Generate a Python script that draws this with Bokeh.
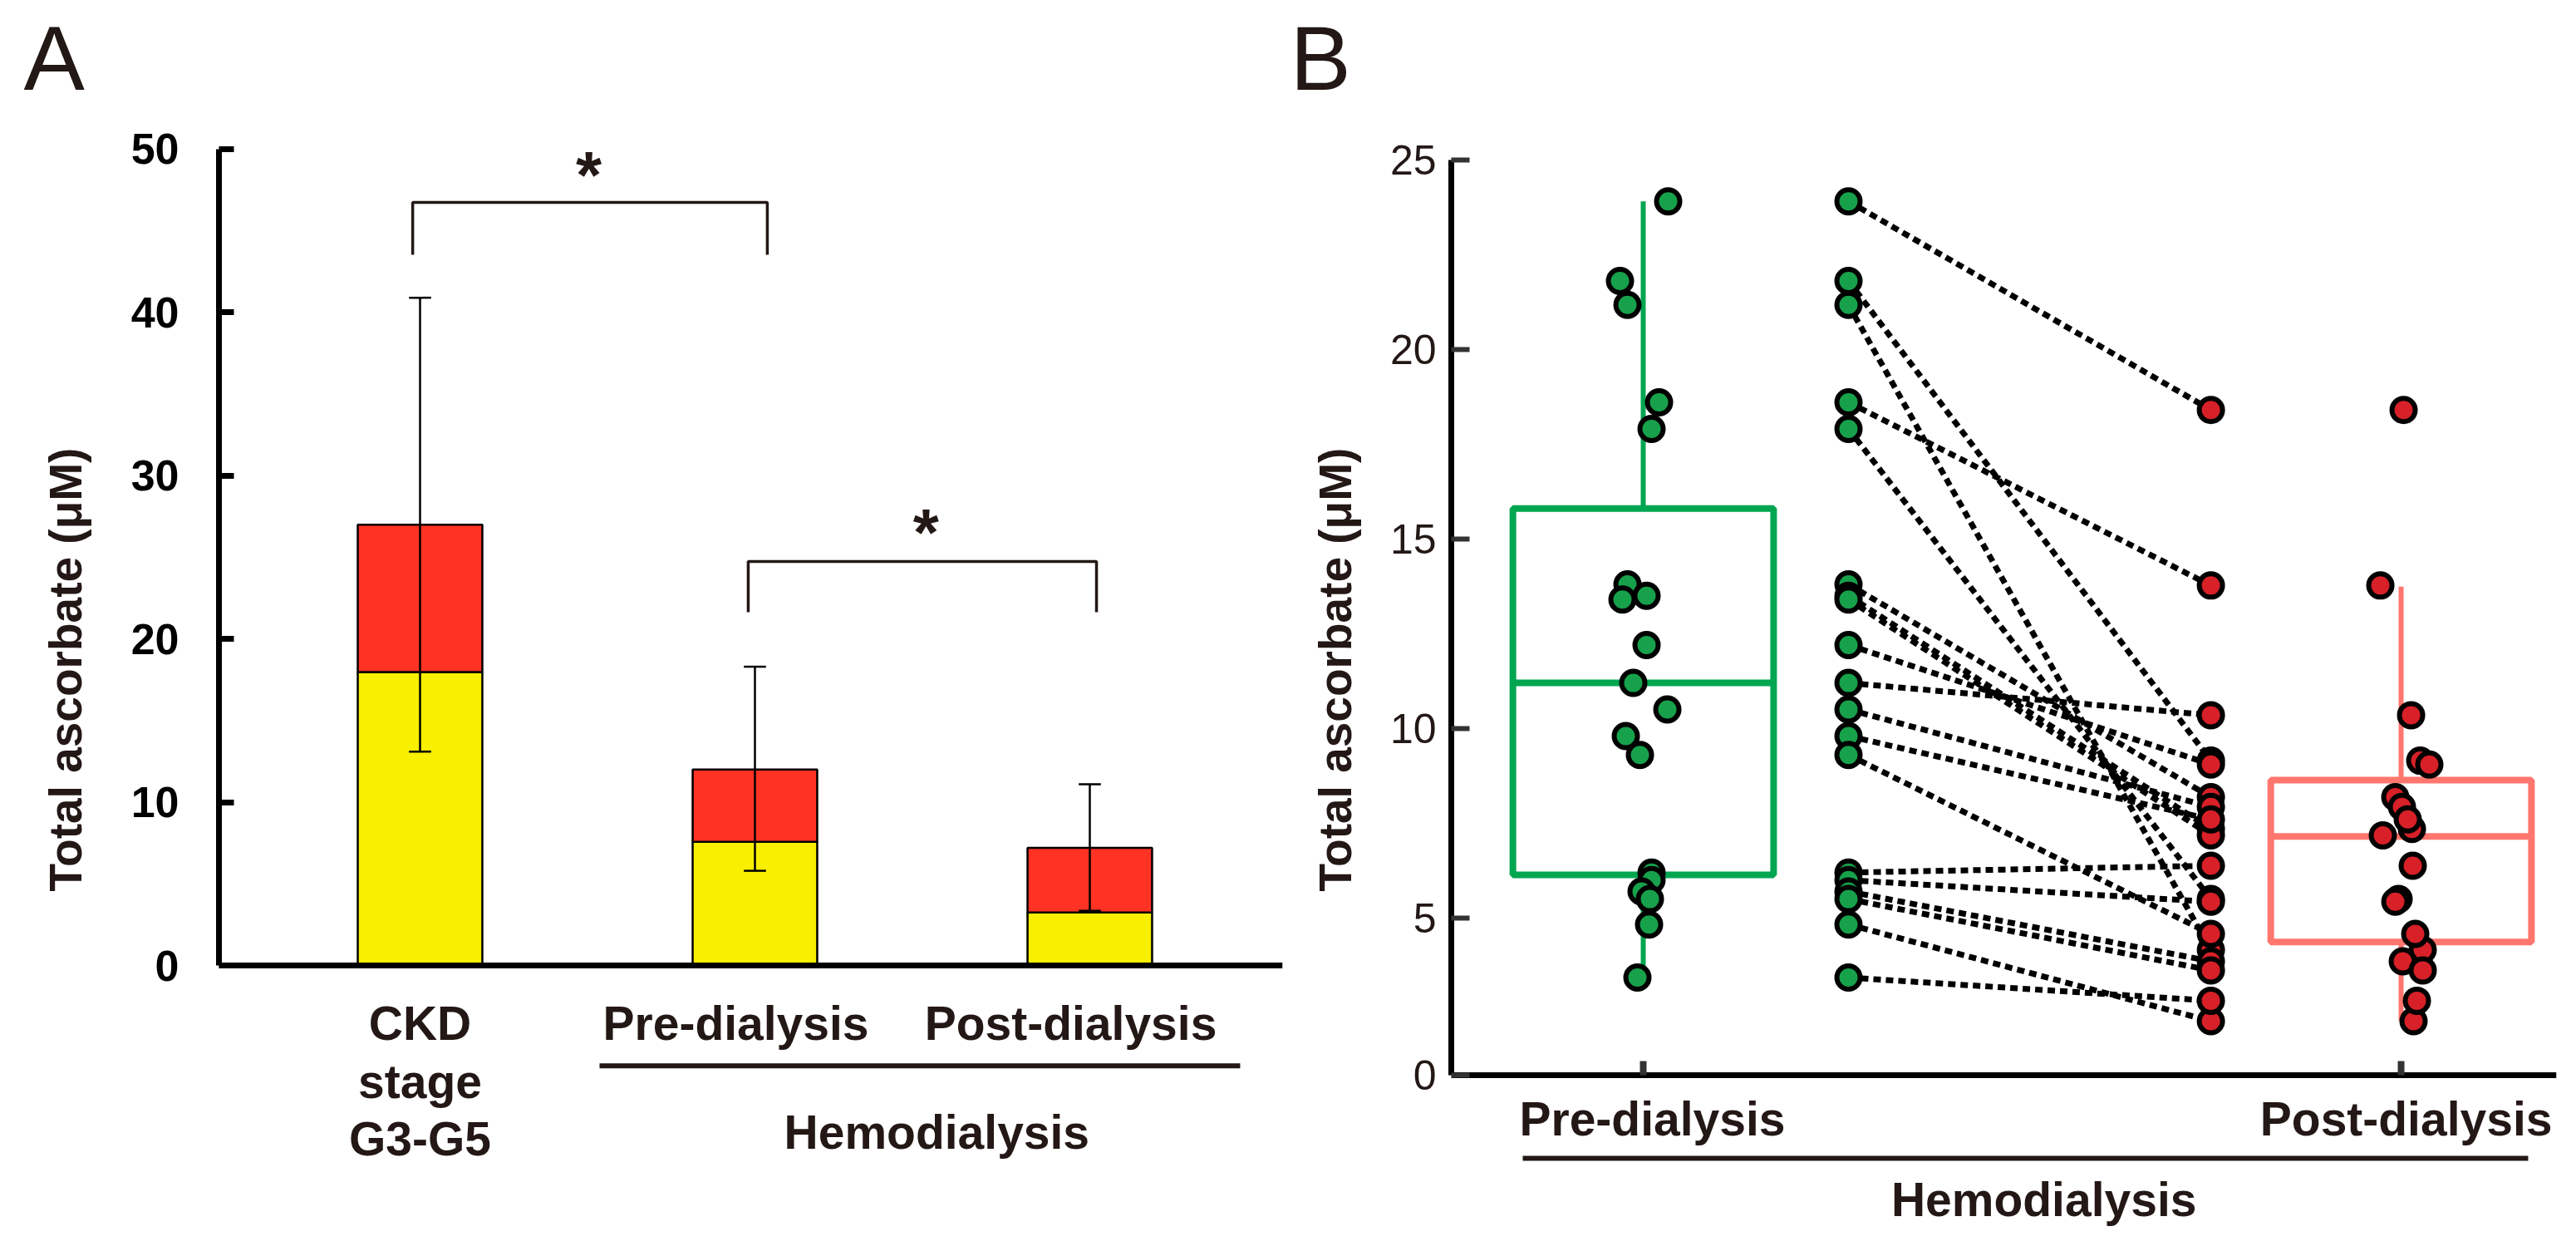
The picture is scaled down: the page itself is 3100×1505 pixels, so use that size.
from bokeh.plotting import figure
from bokeh.models import Range1d, FixedTicker
from bokeh.layouts import row
from bokeh.embed import file_html
from bokeh.resources import INLINE
from bokeh.core.properties import value

# ---------------- Panel A data ----------------
cat_labels_a = ["CKD\nstage\nG3-G5", "Pre-dialysis", "Post-dialysis"]
yellow_part = [17.97, 7.58, 3.25]
total_a = [27.0, 12.0, 7.2]
err_low = [13.1, 5.8, 3.35]
err_high = [40.9, 18.3, 11.1]
ticks_a = [0, 10, 20, 30, 40, 50]
group_label_a = "Hemodialysis"
star_text = "*"

# ---------------- Panel B data ----------------
pre_values = [23.9, 21.8, 21.17, 18.6, 17.9, 13.8, 13.5, 13.4, 12.2, 11.2,
              10.5, 9.8, 9.3, 6.2, 6.0, 5.7, 5.5, 4.83, 3.43]
post_values = [18.4, 9.15, 4.16, 13.77, 5.5, 8.19, 7.35, 7.18, 9.05, 10.35,
               7.93, 7.6, 4.58, 6.38, 5.43, 3.86, 3.62, 2.28, 2.82]
pre_jitter_px = [30, -28, -19, 19, 10, -19, 4, -25, 4, -12, 29, -21, -4, 10, 10, -2, 8, 7, -7]
post_jitter_px = [3, 23, 26, -25, -3, -7, 13, -22, 34, 12, 1, 8, 17, 14, -7, 2, 26, 15, 19]
box_q1 = [6.14, 4.37]
box_median = [11.2, 7.15]
box_q3 = [15.8, 8.64]
whisker_low = [3.43, 2.28]
whisker_high = [23.9, 13.74]
ticks_b = [5, 10, 15, 20, 25]
cat_labels_b = ["Pre-dialysis", "Post-dialysis"]
group_label_b = "Hemodialysis"
y_label = "Total ascorbate (μM)"
panel_letters = ["A", "B"]

# ---------------- styling ----------------
TXT = "#231815"
FONT = value("Liberation Sans")
H = 1500
TOP, BOTTOM = 130, 20
LAB_SIZE = "57px"


def make_fig(width, xr, yr, left, right, letter, letter_offset):
    f = figure(width=width, height=H, output_backend="svg", toolbar_location=None,
               x_range=Range1d(*xr), y_range=Range1d(*yr),
               min_border_left=left, min_border_right=right,
               min_border_top=TOP, min_border_bottom=BOTTOM,
               x_axis_location=None, title=letter)
    f.xgrid.visible = False
    f.ygrid.visible = False
    f.outline_line_color = None
    f.background_fill_color = "white"
    f.border_fill_color = "white"
    t = f.title
    t.align = "left"
    t.offset = letter_offset
    t.standoff = 0
    t.vertical_align = "bottom"
    t.text_font = "Liberation Sans"
    t.text_font_style = "normal"
    t.text_font_size = "110px"
    t.text_color = TXT
    return f


def style_axis(a, ticks, bounds, tick_in, tick_w, tick_col, lab_size, lab_style, standoff,
               title_standoff):
    a.ticker = FixedTicker(ticks=ticks)
    a.bounds = bounds
    a.axis_line_width = 7
    a.axis_line_color = "black"
    a.major_tick_in = tick_in
    a.major_tick_out = 0
    a.major_tick_line_width = tick_w
    a.major_tick_line_color = tick_col
    a.minor_tick_line_color = None
    a.major_label_text_font = "Liberation Sans"
    a.major_label_text_font_style = lab_style
    a.major_label_text_font_size = lab_size
    a.major_label_text_color = TXT if lab_style == "normal" else "black"
    a.major_label_standoff = standoff
    a.axis_label = y_label
    a.axis_label_text_font = "Liberation Sans"
    a.axis_label_text_font_style = "bold"
    a.axis_label_text_font_size = "55px"
    a.axis_label_text_color = TXT
    a.axis_label_standoff = title_standoff


# ================= Panel A =================
pa = make_fig(1550, (0.3995, 3.5757), (-16.24, 52.49), 263, 7, panel_letters[0], -235)
style_axis(pa.yaxis[0], ticks_a, (0, 50), 18, 7, "black", "52px", "bold", 48, 45)

pos_a = [1, 2, 3]
bar_w = 0.372
pa.vbar(x=pos_a, bottom=0, top=yellow_part, width=bar_w,
        fill_color="#F9EF00", line_color="black", line_width=2.5)
pa.vbar(x=pos_a, bottom=yellow_part, top=total_a, width=bar_w,
        fill_color="#FF3223", line_color="black", line_width=2.5)

cap = 0.033
pa.segment(x0=pos_a, y0=err_low, x1=pos_a, y1=err_high, line_color="black", line_width=2.5)
pa.segment(x0=[p - cap for p in pos_a], y0=err_high, x1=[p + cap for p in pos_a], y1=err_high,
           line_color="black", line_width=2.5)
pa.segment(x0=[p - cap for p in pos_a], y0=err_low, x1=[p + cap for p in pos_a], y1=err_low,
           line_color="black", line_width=2.5)

pa.segment(x0=[0.3995], y0=[0], x1=[3.5757], y1=[0], line_color="black", line_width=7)

br_x = [(0.978, 2.037), (1.980, 3.020)]
br_top = [46.74, 24.74]
br_leg = [43.53, 21.64]
pa.multi_line(xs=[[a, a, b, b] for a, b in br_x],
              ys=[[l, t, t, l] for t, l in zip(br_top, br_leg)],
              line_color=TXT, line_width=3.5)
pa.text(x=[1.504, 2.511], y=[48.4, 26.5], text=[star_text, star_text],
        text_align="center", text_baseline="alphabetic", text_font=FONT,
        text_font_style="bold", text_font_size="80px", text_color=TXT)

cat_x_a = [1.0, 1.943, 2.943]
lab_x, lab_y, lab_t = [], [], []
line_baselines = [-3.55, -7.1, -10.6]
for cx, lab in zip(cat_x_a, cat_labels_a):
    for i, part in enumerate(lab.split("\n")):
        lab_x.append(cx)
        lab_y.append(line_baselines[i])
        lab_t.append(part)
pa.text(x=lab_x, y=lab_y, text=lab_t, text_align="center", text_baseline="alphabetic",
        text_font=FONT, text_font_style="bold", text_font_size=LAB_SIZE, text_color=TXT)
pa.segment(x0=[1.536], y0=[-6.15], x1=[3.449], y1=[-6.15], line_color=TXT, line_width=6)
pa.text(x=[2.543], y=[-10.2], text=[group_label_a], text_align="center",
        text_baseline="alphabetic", text_font=FONT, text_font_style="bold",
        text_font_size=LAB_SIZE, text_color=TXT)

# ================= Panel B =================
axis_base = 0.855
pb = make_fig(1550, (0.2401, 4.615), (-3.244, 26.35), 196, 24, panel_letters[1], -194)
bx = pb.yaxis[0]
style_axis(bx, [axis_base] + ticks_b, (axis_base, 25), 22, 6, "#333333", "50px", "normal",
           18, 32)
bx.major_label_overrides = {axis_base: "0"}

PX = 304.0
box_pos = [1.0, 4.0]
pair_pre_x = 1.8125
pair_post_x = 3.247
half = 0.516
box_colors = ["#00A650", "#FF766E"]

pb.segment(x0=[0.2401], y0=[axis_base], x1=[4.615], y1=[axis_base],
           line_color="black", line_width=7)
pb.segment(x0=box_pos, y0=[axis_base] * 2, x1=box_pos, y1=[1.23] * 2,
           line_color="#333333", line_width=8)

pb.segment(x0=box_pos, y0=whisker_low, x1=box_pos, y1=box_q1, line_color=box_colors, line_width=6)
pb.segment(x0=box_pos, y0=box_q3, x1=box_pos, y1=whisker_high, line_color=box_colors, line_width=6)
pb.quad(left=[p - half for p in box_pos], right=[p + half for p in box_pos],
        bottom=box_q1, top=box_q3, fill_color=None, line_color=box_colors, line_width=8)
pb.segment(x0=[p - half for p in box_pos], y0=box_median, x1=[p + half for p in box_pos],
           y1=box_median, line_color=box_colors, line_width=8)

n = len(pre_values)
pb.segment(x0=[pair_pre_x] * n, y0=pre_values, x1=[pair_post_x] * n, y1=post_values,
           line_color="black", line_width=7, line_dash="9 6")

GREEN = "#17A14B"
RED = "#D72027"
PT = 28
pb.scatter(x=[box_pos[0] + j / PX for j in pre_jitter_px], y=pre_values, size=PT,
           fill_color=GREEN, line_color="black", line_width=6)
pb.scatter(x=[box_pos[1] + j / PX for j in post_jitter_px], y=post_values, size=PT,
           fill_color=RED, line_color="black", line_width=6)
pb.scatter(x=[pair_pre_x] * n, y=pre_values, size=PT,
           fill_color=GREEN, line_color="black", line_width=6)
pb.scatter(x=[pair_post_x] * n, y=post_values, size=PT,
           fill_color=RED, line_color="black", line_width=6)

pb.text(x=[1.036, 4.02], y=[-0.29, -0.29], text=cat_labels_b, text_align="center",
        text_baseline="alphabetic", text_font=FONT, text_font_style="bold",
        text_font_size=LAB_SIZE, text_color=TXT)
pb.segment(x0=[0.523], y0=[-1.337], x1=[4.503], y1=[-1.337], line_color=TXT, line_width=6)
pb.text(x=[2.586], y=[-2.42], text=[group_label_b], text_align="center",
        text_baseline="alphabetic", text_font=FONT, text_font_style="bold",
        text_font_size=LAB_SIZE, text_color=TXT)

layout = row(pa, pb)
open("out.html", "w").write(file_html(layout, INLINE))
